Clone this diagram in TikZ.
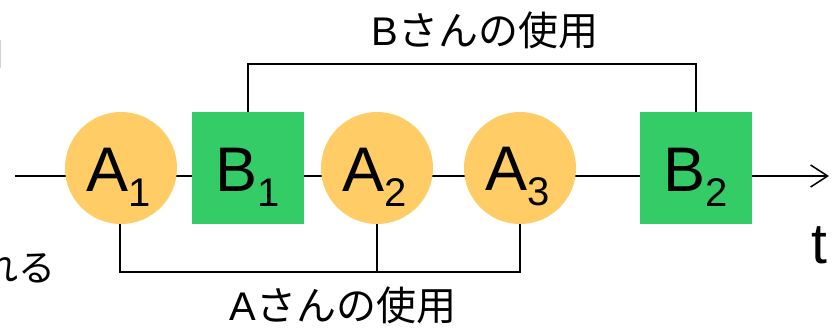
\documentclass[tikz,border=0pt]{standalone}
\usepackage{fontspec}
\setmainfont{Liberation Sans}
\newfontfamily\jpfont{Noto Sans CJK JP}
\usetikzlibrary{arrows.meta}
\definecolor{aorange}{RGB}{255,204,102}
\definecolor{bgreen}{RGB}{51,204,102}
\newcommand{\sublbl}[2]{#1\raisebox{-15pt}{\fontsize{40}{40}\selectfont #2}}
\tikzset{
  conn/.style={line width=1.5pt, draw=black},
  acirc/.style={circle, fill=aorange, minimum size=112pt, inner sep=0pt},
  bsq/.style={rectangle, fill=bgreen, minimum size=112pt, inner sep=0pt},
  lbl/.style={inner sep=0pt, font=\fontsize{63}{63}\selectfont},
  jp/.style={inner sep=0pt, font=\jpfont\fontsize{40}{48}\selectfont},
}
\begin{document}
\begin{tikzpicture}[x=1pt, y=-1pt]
\useasboundingbox (0,0) rectangle (836,327);
% timeline
\coordinate (tstart) at (15,176);
\coordinate (tend) at (829,176);
\draw[conn, -{Straight Barb[length=17pt, width=22pt, line width=1.5pt]}] (tstart) -- (tend);
% nodes
\node[acirc, label={[lbl, yshift=-9pt, xshift=-2pt]center:\sublbl{A}{1}}] (A1) at (121,168) {};
\node[bsq, label={[lbl, yshift=-9pt]center:\sublbl{B}{1}}] (B1) at (248,168) {};
\node[acirc, label={[lbl, yshift=-9pt, xshift=-2pt]center:\sublbl{A}{2}}] (A2) at (377,168) {};
\node[acirc, label={[lbl, yshift=-9pt, xshift=-2pt]center:\sublbl{A}{3}}] (A3) at (520,168) {};
\node[bsq, label={[lbl, yshift=-9pt]center:\sublbl{B}{2}}] (B2) at (696,168) {};
% B bracket
\coordinate (btop) at (248,64);
\draw[conn] (B1.north) -- (btop) -| (B2.north);
% A bracket
\coordinate (abot) at (120,272);
\draw[conn] (A1.south -| abot) -- (abot) -| (A3.south);
\draw[conn] (A2.south) -- (A2.south |- abot);
% texts
\node[jp] (Btxt) at (485,30) {{\rmfamily B}さんの使用};
\node[jp] (Atxt) at (343,305) {{\rmfamily A}さんの使用};
\node[inner sep=0pt, font=\fontsize{57}{57}\selectfont, anchor=base] (t) at (819,263) {t};
\node[jp, font=\jpfont\fontsize{37}{40}\selectfont, anchor=east] (cut) at (56,268) {れる};
\draw[gray!35, line width=1.2pt] (0.6,40) -- (0.6,68);
\end{tikzpicture}
\end{document}
